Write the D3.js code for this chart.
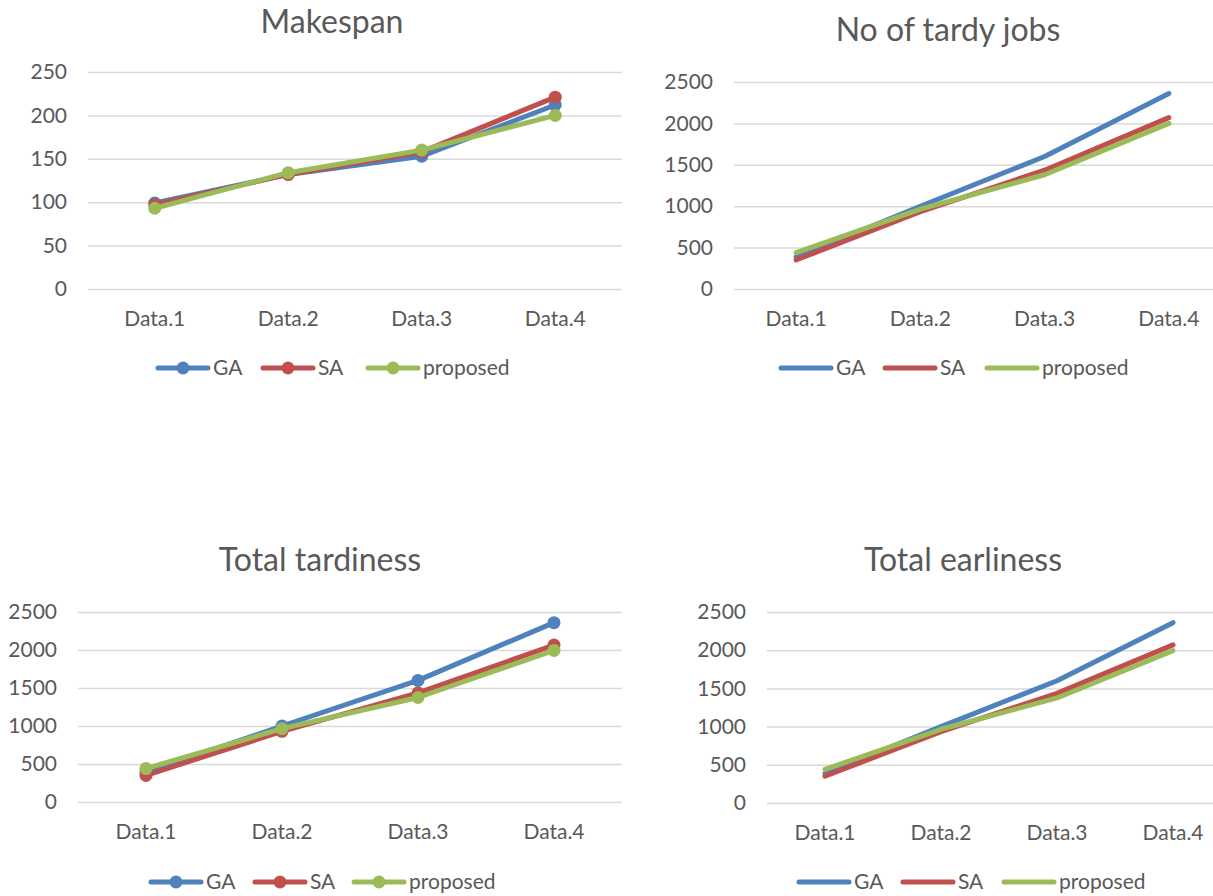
<!DOCTYPE html>
<html>
<head>
<meta charset="utf-8">
<script src="https://cdn.jsdelivr.net/npm/d3@7"></script>
<style>
  html, body { margin: 0; padding: 0; background: #fff; }
  svg { display: block; font-family: Lato, "Open Sans", sans-serif; }
</style>
</head>
<body>
<svg id="chart" width="1213" height="896"></svg>
<script>
// Categories and series
const categories = ["Data.1", "Data.2", "Data.3", "Data.4"];
const seriesNames = ["GA", "SA", "proposed"];
const seriesColors = ["#4f81bd", "#c0504d", "#9bbb59"];

// Makespan
const makespanGA = [99, 132, 153, 212];
const makespanSA = [97, 132, 158, 221];
const makespanProposed = [93, 134, 160, 200];

// No of tardy jobs
const tardyJobsGA = [385, 1000, 1600, 2360];
const tardyJobsSA = [350, 935, 1435, 2070];
const tardyJobsProposed = [440, 965, 1380, 2000];

// Total tardiness
const tardinessGA = [390, 1000, 1600, 2360];
const tardinessSA = [350, 930, 1435, 2065];
const tardinessProposed = [440, 965, 1375, 1995];

// Total earliness
const earlinessGA = [385, 1000, 1600, 2360];
const earlinessSA = [350, 935, 1435, 2070];
const earlinessProposed = [440, 965, 1375, 1995];

// Tick labels
const makespanTicks = [0, 50, 100, 150, 200, 250];
const countTicks = [0, 500, 1000, 1500, 2000, 2500];

const textColor = "#595959";
const gridColor = "#d9d9d9";
const labelSize = "21px";

const svg = d3.select("#chart");

function drawPanel(cfg) {
  const g = svg.append("g");

  const x = d3.scaleBand().domain(categories).range([cfg.left, cfg.right]).padding(0);
  const y = d3.scaleLinear().domain([0, d3.max(cfg.ticks)]).range([cfg.bottom, cfg.top]);
  const cx = c => x(c) + x.bandwidth() / 2;

  // Title
  g.append("text")
    .attr("x", cfg.titleX).attr("y", cfg.titleY)
    .attr("text-anchor", "middle")
    .attr("fill", textColor)
    .style("font-size", "32px")
    .text(cfg.title);

  // Value axis with gridlines
  const yAxis = g.append("g")
    .attr("transform", `translate(${cfg.left},0)`)
    .call(d3.axisLeft(y).tickValues(cfg.ticks).tickFormat(d3.format("d"))
      .tickSize(-(cfg.right - cfg.left)).tickPadding(21));
  yAxis.select(".domain").remove();
  yAxis.selectAll(".tick line").attr("stroke", gridColor).attr("stroke-width", 1.5);
  yAxis.selectAll(".tick text")
    .attr("fill", textColor)
    .style("font-size", labelSize)
    .style("font-family", "Lato, sans-serif");

  // Category axis
  const xAxis = g.append("g")
    .attr("transform", `translate(0,${cfg.bottom})`)
    .call(d3.axisBottom(x).tickSize(0).tickPadding(22));
  xAxis.select(".domain").remove();
  xAxis.selectAll(".tick text")
    .attr("fill", textColor)
    .style("font-size", labelSize)
    .style("font-family", "Lato, sans-serif");

  // Series lines
  const line = d3.line().x((d, i) => cx(categories[i])).y(d => y(d));
  cfg.series.forEach((vals, si) => {
    g.append("path")
      .datum(vals)
      .attr("d", line)
      .attr("fill", "none")
      .attr("stroke", seriesColors[si])
      .attr("stroke-width", 5)
      .attr("stroke-linecap", "round")
      .attr("stroke-linejoin", "round");
    if (cfg.markers) {
      g.selectAll(null)
        .data(vals)
        .enter().append("circle")
        .attr("cx", (d, i) => cx(categories[i]))
        .attr("cy", d => y(d))
        .attr("r", 6.5)
        .attr("fill", seriesColors[si]);
    }
  });

  // Legend
  seriesNames.forEach((name, si) => {
    const lx = cfg.legendX[si];
    const item = g.append("g");
    item.append("line")
      .attr("x1", lx).attr("x2", lx + 50)
      .attr("y1", cfg.legendY).attr("y2", cfg.legendY)
      .attr("stroke", seriesColors[si])
      .attr("stroke-width", 5)
      .attr("stroke-linecap", "round");
    if (cfg.markers) {
      item.append("circle")
        .attr("cx", lx + 25).attr("cy", cfg.legendY)
        .attr("r", 6.5)
        .attr("fill", seriesColors[si]);
    }
    item.append("text")
      .attr("x", lx + 55).attr("y", cfg.legendY + 7)
      .attr("fill", textColor)
      .style("font-size", labelSize)
      .text(name);
  });
}

drawPanel({
  title: "Makespan", titleX: 332, titleY: 33,
  left: 88, right: 622, top: 72, bottom: 289,
  ticks: makespanTicks,
  series: [makespanGA, makespanSA, makespanProposed],
  markers: true,
  legendY: 368, legendX: [158, 263, 368]
});

drawPanel({
  title: "No of tardy jobs", titleX: 948, titleY: 41,
  left: 734, right: 1231, top: 82, bottom: 289,
  ticks: countTicks,
  series: [tardyJobsGA, tardyJobsSA, tardyJobsProposed],
  markers: false,
  legendY: 368, legendX: [781, 885, 987]
});

drawPanel({
  title: "Total tardiness", titleX: 320, titleY: 571,
  left: 78, right: 622, top: 612, bottom: 802,
  ticks: countTicks,
  series: [tardinessGA, tardinessSA, tardinessProposed],
  markers: true,
  legendY: 882, legendX: [151, 255, 354]
});

drawPanel({
  title: "Total earliness", titleX: 963, titleY: 571,
  left: 767, right: 1231, top: 612, bottom: 803,
  ticks: countTicks,
  series: [earlinessGA, earlinessSA, earlinessProposed],
  markers: false,
  legendY: 882, legendX: [799, 903, 1004]
});
</script>
</body>
</html>
